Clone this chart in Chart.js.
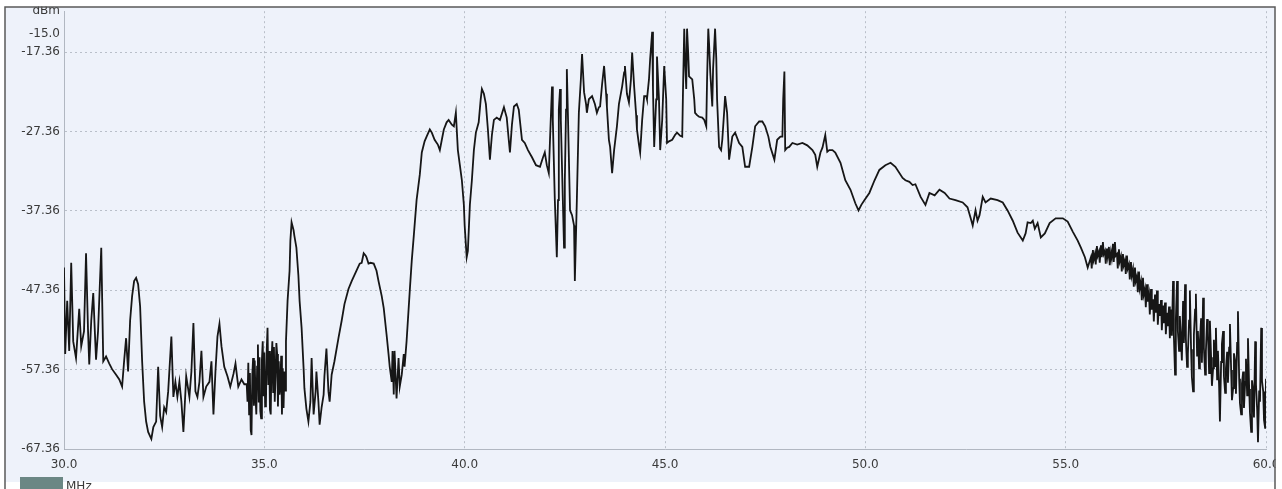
<!DOCTYPE html>
<html>
<head>
<meta charset="utf-8">
<title>Spectrum 30–60 MHz</title>
<script src="https://cdn.jsdelivr.net/npm/chart.js@4.4.1/dist/chart.umd.min.js"></script>
<style>
  html, body { margin: 0; padding: 0; background: #ffffff; }
  #wrap { width: 1282px; height: 489px; position: relative; }
  canvas { display: block; }
</style>
</head>
<body>
<div id="wrap"><canvas id="spec" width="1282" height="489"></canvas></div>
<script>
// Frequency of each trace sample, MHz
const freqMHz = [
  30.00,30.03,30.08,30.13,30.18,30.23,30.30,30.38,30.43,30.50,
  30.55,30.60,30.63,30.68,30.73,30.78,30.80,30.85,30.93,30.98,
  31.05,31.13,31.20,31.30,31.38,31.45,31.50,31.55,31.60,31.65,
  31.70,31.75,31.80,31.85,31.90,31.95,32.00,32.05,32.10,32.18,
  32.23,32.30,32.35,32.40,32.45,32.50,32.55,32.60,32.68,32.73,
  32.78,32.83,32.88,32.93,32.98,33.05,33.13,33.18,33.23,33.28,
  33.33,33.38,33.43,33.48,33.55,33.63,33.68,33.73,33.78,33.83,
  33.88,33.93,34.00,34.08,34.15,34.23,34.28,34.35,34.43,34.50,
  34.56,34.58,34.60,34.62,34.64,34.66,34.68,34.70,34.72,34.74,
  34.76,34.78,34.80,34.82,34.84,34.86,34.88,34.90,34.92,34.94,
  34.96,34.98,35.00,35.02,35.04,35.06,35.08,35.10,35.12,35.14,
  35.16,35.18,35.20,35.22,35.24,35.26,35.28,35.30,35.32,35.34,
  35.36,35.38,35.40,35.42,35.44,35.46,35.48,35.50,35.52,35.54,
  35.58,35.63,35.65,35.68,35.70,
  35.73,35.75,35.80,35.85,35.88,35.93,35.98,36.00,36.05,36.10,
  36.15,36.18,36.23,36.28,36.30,36.35,36.38,36.43,36.48,36.50,
  36.55,36.60,36.63,36.68,36.75,36.85,36.93,37.00,37.10,37.18,
  37.30,37.38,37.43,37.48,37.53,37.55,37.60,37.65,37.73,37.80,
  37.85,37.93,37.98,38.05,38.10,38.13,38.18,38.20,38.23,38.25,
  38.30,38.35,38.38,38.43,38.48,38.50,38.55,38.63,38.68,38.73,
  38.80,38.88,38.93,39.00,39.05,39.13,39.18,39.25,39.33,39.38,
  39.43,39.48,39.55,39.60,39.68,39.73,39.78,39.83,39.88,39.93,
  39.98,40.00,40.05,40.08,40.13,40.18,40.23,40.28,40.35,40.40,
  40.43,40.48,40.53,40.58,40.63,40.68,40.73,40.80,40.88,40.98,
  41.05,41.10,41.13,41.18,41.23,41.30,41.35,41.43,41.50,41.58,
  41.68,41.78,41.88,41.95,42.00,42.05,42.10,42.13,42.18,42.20,
  42.25,42.30,42.33,42.35,42.38,42.40,42.45,42.48,42.50,42.53,
  42.55,42.58,42.63,42.68,42.73,42.75,42.80,42.85,42.90,42.93,
  42.98,43.03,43.05,43.10,43.18,43.25,43.30,43.35,43.38,43.43,
  43.48,43.53,43.55,43.60,43.63,43.68,43.73,43.80,43.85,43.93,
  43.98,44.00,44.05,44.10,44.15,44.18,44.23,44.28,44.30,44.35,
  44.38,44.43,44.48,44.53,44.55,44.60,44.63,44.68,44.70,44.73,
  44.78,44.80,44.85,44.88,44.93,44.98,45.03,45.05,45.10,45.18,
  45.25,45.30,45.38,45.43,45.45,45.48,45.50,45.53,45.55,45.58,
  45.60,45.68,45.73,45.75,45.80,45.85,45.93,45.98,46.03,46.05,
  46.08,46.10,46.13,46.18,46.20,46.25,46.28,46.30,46.35,46.40,
  46.43,46.48,46.50,46.55,46.60,46.68,46.75,46.85,46.93,47.00,
  47.10,47.18,47.25,47.35,47.43,47.50,47.58,47.63,47.73,47.80,
  47.88,47.93,47.95,47.98,48.00,48.05,48.10,48.18,48.30,48.43,
  48.55,48.68,48.75,48.80,48.88,48.93,49.00,49.05,49.10,49.18,
  49.25,49.38,49.50,49.63,49.75,49.83,49.90,49.98,50.10,50.23,
  50.35,50.50,50.63,50.75,50.93,51.00,51.10,51.18,51.25,51.38,
  51.50,51.60,51.73,51.85,51.98,52.10,52.25,52.43,52.55,52.63,
  52.68,52.75,52.80,52.85,52.93,53.00,53.13,53.30,53.43,53.55,
  53.68,53.80,53.93,54.00,54.05,54.13,54.18,54.23,54.30,54.38,
  54.48,54.60,54.75,54.93,55.05,55.18,55.30,55.38,55.48,55.55,
  55.63,55.65,55.68,55.70,55.73,55.75,55.78,55.80,55.83,55.85,
  55.88,55.90,55.93,55.95,55.98,56.00,56.03,56.05,56.08,56.10,
  56.13,56.15,56.18,56.20,56.23,56.25,56.28,56.30,56.33,56.35,
  56.38,56.40,56.43,56.45,56.48,56.50,56.53,56.55,56.58,56.60,
  56.63,56.65,56.68,56.70,56.73,56.75,56.78,56.80,56.83,56.85,
  56.88,56.90,56.93,56.95,56.98,57.00,57.03,57.05,57.08,57.10,
  57.13,57.15,57.18,57.20,57.23,57.25,57.28,57.30,57.33,57.35,
  57.38,57.40,57.43,57.45,57.48,57.50,57.53,57.55,57.58,57.60,
  57.63,57.65,57.68,57.70,57.73,57.75,57.78,57.80,57.83,57.85,
  57.88,57.90,57.93,57.95,57.98,58.00,58.03,58.05,58.08,58.10,
  58.13,58.15,58.18,58.20,58.23,58.25,58.28,58.30,58.33,58.35,
  58.38,58.40,58.43,58.45,58.48,58.50,58.53,58.55,58.58,58.60,
  58.63,58.65,58.68,58.70,58.73,58.75,58.78,58.80,58.83,58.85,
  58.88,58.90,58.93,58.95,58.98,59.00,59.03,59.05,59.08,59.10,
  59.13,59.15,59.18,59.20,59.23,59.25,59.28,59.30,59.33,59.35,
  59.38,59.40,59.43,59.45,59.48,59.50,59.53,59.55,59.58,59.60,
  59.63,59.65,59.68,59.70,59.73,59.75,59.78,59.80,59.83,59.85,
  59.88,59.90,59.93,59.95,59.98,60.00
];

// Measured level of each sample, dBm
const levelDbm = [
  -44.5,-55.4,-48.7,-55.0,-43.9,-53.8,-55.9,-49.7,-54.4,-52.5,
  -42.7,-52.5,-56.7,-51.2,-47.7,-53.8,-56.1,-52.5,-42.0,-56.3,
  -55.7,-56.6,-57.3,-58.0,-58.6,-59.5,-56.3,-53.4,-57.6,-51.2,
  -48.1,-46.2,-45.8,-46.6,-49.4,-56.3,-61.4,-63.9,-65.2,-66.1,
  -64.6,-63.9,-57.0,-63.2,-64.6,-62.1,-62.7,-60.1,-53.2,-60.8,
  -58.9,-60.8,-58.9,-61.4,-65.2,-58.2,-60.8,-57.6,-51.5,-60.1,
  -60.8,-58.9,-55.0,-60.8,-59.5,-58.9,-56.3,-63.0,-57.6,-53.2,
  -51.6,-54.4,-57.0,-58.2,-59.5,-57.9,-56.6,-59.5,-58.6,-59.2,
  -59.2,-61.4,-56.5,-63.0,-57.8,-65.0,-65.6,-58.0,-55.9,-61.9,
  -56.2,-60.8,-63.0,-57.0,-54.2,-61.5,-55.8,-62.6,-63.5,-56.1,
  -53.8,-60.7,-55.2,-62.0,-61.8,-54.9,-52.1,-59.3,-55.0,-62.4,
  -63.0,-56.0,-53.8,-60.2,-54.5,-61.4,-58.2,-54.0,-55.4,-62.0,
  -56.3,-60.5,-59.5,-55.6,-63.0,-57.2,-62.2,-57.6,-60.0,-53.8,
  -48.7,-44.9,-41.1,-38.8,-39.2,
  -39.8,-40.5,-42.0,-45.5,-48.7,-52.1,-57.2,-59.7,-62.3,-63.9,
  -61.4,-55.9,-63.0,-60.1,-57.6,-61.4,-64.3,-62.1,-60.5,-58.2,
  -54.7,-60.1,-61.4,-58.0,-56.3,-53.4,-51.2,-49.1,-47.2,-46.2,
  -44.9,-44.0,-43.9,-42.7,-43.0,-43.2,-44.0,-43.9,-44.0,-44.9,
  -46.2,-48.1,-49.6,-52.9,-55.4,-57.0,-58.9,-55.0,-60.5,-55.0,
  -61.0,-55.9,-59.5,-58.0,-55.4,-57.0,-53.8,-47.4,-43.6,-40.5,
  -36.0,-32.8,-30.0,-28.6,-28.0,-27.1,-27.5,-28.4,-29.0,-29.7,
  -28.4,-27.1,-26.2,-25.9,-26.5,-26.7,-25.0,-29.7,-31.6,-33.5,
  -36.6,-39.2,-43.2,-42.4,-36.6,-33.5,-29.7,-27.5,-26.2,-23.3,
  -22.0,-22.6,-23.9,-27.1,-30.9,-27.8,-25.9,-25.6,-25.9,-24.3,
  -25.6,-28.4,-30.0,-26.5,-24.2,-23.9,-24.6,-28.4,-28.8,-29.7,
  -30.6,-31.6,-31.8,-30.7,-30.0,-31.6,-32.6,-28.4,-21.7,-25.9,
  -36.0,-43.2,-36.0,-24.6,-22.0,-25.9,-36.0,-42.0,-33.5,-24.6,
  -19.5,-25.9,-37.3,-37.9,-39.2,-46.2,-36.0,-25.0,-20.8,-17.6,
  -22.4,-23.9,-25.0,-23.3,-22.9,-23.9,-25.0,-24.3,-24.2,-21.4,
  -19.1,-22.6,-24.2,-28.4,-29.3,-32.6,-29.7,-26.7,-23.9,-21.7,
  -19.9,-19.1,-22.6,-23.7,-20.8,-17.4,-21.7,-25.3,-27.1,-29.0,
  -30.0,-25.9,-22.9,-22.9,-23.3,-20.8,-18.2,-14.8,-22.0,-29.3,
  -23.3,-17.9,-23.3,-29.7,-25.9,-19.1,-23.3,-28.8,-28.6,-28.4,
  -27.8,-27.5,-27.9,-28.0,-22.0,-14.4,-18.2,-22.0,-14.4,-17.6,
  -20.4,-20.8,-23.3,-25.0,-25.3,-25.5,-25.6,-25.9,-26.7,-20.8,
  -14.4,-16.3,-19.9,-24.2,-19.5,-14.4,-18.2,-23.3,-29.3,-29.7,
  -28.4,-24.6,-22.9,-25.0,-30.9,-28.0,-27.5,-28.8,-29.3,-31.8,
  -31.8,-29.3,-26.7,-26.1,-26.1,-26.7,-28.0,-29.3,-30.9,-28.4,
  -28.0,-28.0,-23.3,-19.8,-29.7,-29.4,-29.3,-28.8,-29.0,-28.8,
  -29.1,-29.7,-30.3,-31.8,-30.0,-29.4,-27.8,-29.9,-29.7,-29.7,
  -30.0,-31.3,-33.5,-34.7,-36.4,-37.3,-36.6,-36.0,-35.1,-33.5,
  -32.2,-31.6,-31.3,-31.8,-33.2,-33.5,-33.7,-34.1,-34.0,-35.6,
  -36.6,-35.1,-35.4,-34.7,-35.1,-35.8,-36.0,-36.3,-36.9,-38.3,
  -39.2,-37.3,-38.6,-37.9,-35.6,-36.3,-35.8,-36.0,-36.3,-37.3,
  -38.6,-40.1,-41.1,-40.2,-38.8,-38.9,-38.6,-39.6,-38.9,-40.7,
  -40.2,-38.9,-38.3,-38.3,-38.7,-40.0,-41.1,-42.0,-43.2,-44.5,
  -43.2,-44.6,-42.3,-43.5,-42.8,-44.1,-41.8,-43.0,-42.5,-43.9,
  -41.7,-43.2,-41.3,-42.8,-42.4,-44.0,-42.1,-43.1,-41.9,-44.2,
  -42.6,-43.3,-41.5,-43.8,-41.3,-43.0,-42.8,-44.6,-42.2,-43.7,
  -43.1,-45.0,-42.8,-44.2,-43.6,-45.3,-43.0,-44.6,-44.1,-46.0,
  -43.8,-45.5,-44.7,-46.9,-44.5,-46.2,-45.6,-47.6,-45.0,-47.1,
  -46.3,-48.6,-45.8,-47.9,-47.2,-49.5,-46.6,-48.8,-47.9,-50.4,
  -47.2,-49.8,-48.5,-51.3,-47.9,-50.2,-47.4,-51.7,-49.1,-50.6,
  -48.6,-52.4,-49.3,-51.5,-48.9,-52.9,-50.2,-51.9,-49.4,-53.4,
  -49.8,-53.1,-46.2,-53.0,-58.0,-51.0,-46.2,-52.5,-55.0,-50.6,
  -53.8,-56.2,-48.7,-54.0,-46.6,-53.5,-57.0,-55.4,-51.2,-47.4,
  -54.8,-58.3,-60.1,-53.0,-49.8,-47.8,-55.6,-52.5,-57.2,-53.8,
  -50.9,-56.5,-48.3,-54.6,-58.0,-55.0,-51.0,-52.5,-57.8,-51.2,
  -55.8,-59.4,-57.2,-53.6,-56.9,-52.1,-58.6,-55.0,-59.5,-63.9,
  -56.4,-54.1,-52.5,-58.2,-60.3,-57.2,-55.1,-59.0,-54.6,-51.6,
  -57.4,-61.2,-59.7,-55.3,-56.3,-60.4,-54.0,-50.0,-58.5,-61.6,
  -63.0,-59.1,-57.6,-62.2,-58.9,-56.0,-60.6,-53.4,-59.8,-62.8,
  -65.2,-58.7,-60.1,-63.4,-53.8,-59.2,-62.5,-66.5,-60.0,-61.4,
  -52.1,-58.8,-60.1,-63.7,-64.8,-58.5
];

// Axis ticks and their printed labels
const freqTicks = [30, 35, 40, 45, 50, 55, 60];
const freqTickLabels = ['30.0', '35.0', '40.0', '45.0', '50.0', '55.0', '60.0'];
const levelTicks = [-67.36, -57.36, -47.36, -37.36, -27.36, -17.36, -15.0];
const levelTickLabels = ['-67.36', '-57.36', '-47.36', '-37.36', '-27.36', '-17.36', '-15.0'];
const levelUnit = 'dBm';
const freqUnit = 'MHz';

const LEVEL_MIN = -67.36;
const LEVEL_MAX = -12.2;   // top of the display, where the unit label sits

const points = freqMHz.map((f, i) => ({ x: f, y: levelDbm[i] }));

const GRID = 'rgba(150,156,168,0.6)';
const AXIS = 'rgba(170,176,186,0.9)';
const TEXT = '#3a3a3a';
const FONT = { family: '"DejaVu Sans", Verdana, sans-serif', size: 12 };

// Analyzer panel: bluish screen inside a dark frame, the unit box at the foot
const panel = {
  id: 'panel',
  beforeDraw(chart) {
    const c = chart.ctx;
    c.save();
    c.fillStyle = '#ffffff';
    c.fillRect(0, 0, chart.width, chart.height);
    c.fillStyle = '#eef2fa';
    c.fillRect(5, 7, 1270, 475);
    c.restore();
  },
  afterDraw(chart) {
    const c = chart.ctx;
    c.save();
    c.fillStyle = '#ffffff';
    c.fillRect(0, 0, chart.width, 6.5);
    c.fillRect(1275.5, 0, chart.width - 1275.5, chart.height);
    c.fillRect(5, 482, 1270, chart.height - 482);
    c.fillStyle = '#6b8784';
    c.fillRect(20, 477, 43, 12);
    c.fillStyle = TEXT;
    c.font = '12px "DejaVu Sans", Verdana, sans-serif';
    c.textBaseline = 'top';
    c.fillText(freqUnit, 66, 481);
    c.strokeStyle = '#5a5a5a';
    c.lineWidth = 1.5;
    c.beginPath();
    c.moveTo(5, chart.height);
    c.lineTo(5, 7);
    c.lineTo(1275, 7);
    c.lineTo(1275, chart.height);
    c.stroke();
    c.restore();
  }
};

new Chart(document.getElementById('spec'), {
  type: 'line',
  data: {
    datasets: [{
      data: points,
      borderColor: '#161616',
      borderWidth: 1.8,
      pointRadius: 0,
      tension: 0,
      fill: false
    }]
  },
  options: {
    responsive: false,
    animation: false,
    devicePixelRatio: 1,
    parsing: false,
    layout: { padding: { top: 10, right: 16, bottom: 0, left: 0 } },
    plugins: { legend: { display: false }, tooltip: { enabled: false } },
    scales: {
      x: {
        type: 'linear',
        min: 30,
        max: 60,
        afterFit(scale) {
          scale.height = 40;
          scale.paddingLeft = 0;
          scale.paddingRight = 0;
        },
        afterBuildTicks(scale) { scale.ticks = freqTicks.map(v => ({ value: v })); },
        ticks: {
          padding: 9,
          color: TEXT,
          font: FONT,
          maxRotation: 0,
          autoSkip: false,
          callback: (v) => freqTickLabels[freqTicks.indexOf(v)]
        },
        grid: {
          drawTicks: false,
          tickLength: 0,
          color: (ctx) => (ctx.tick && (ctx.tick.value === 30) ? 'transparent' : GRID),
          lineWidth: 1
        },
        border: { display: true, color: AXIS, width: 1, dash: [2, 3] }
      },
      y: {
        type: 'linear',
        min: LEVEL_MIN,
        max: LEVEL_MAX,
        afterFit(scale) { scale.width = 64; },
        afterBuildTicks(scale) {
          scale.ticks = levelTicks.map(v => ({ value: v })).concat([{ value: LEVEL_MAX }]);
        },
        ticks: {
          padding: 4,
          color: TEXT,
          font: FONT,
          autoSkip: false,
          callback: (v) => (v === LEVEL_MAX ? levelUnit : levelTickLabels[levelTicks.indexOf(v)])
        },
        grid: {
          drawTicks: false,
          tickLength: 0,
          color: (ctx) => {
            const v = ctx.tick && ctx.tick.value;
            return (v === LEVEL_MAX || v === -15.0 || v === LEVEL_MIN) ? 'transparent' : GRID;
          },
          lineWidth: 1
        },
        border: { display: true, color: AXIS, width: 1, dash: [2, 3] }
      }
    }
  },
  plugins: [panel]
});
</script>
</body>
</html>
